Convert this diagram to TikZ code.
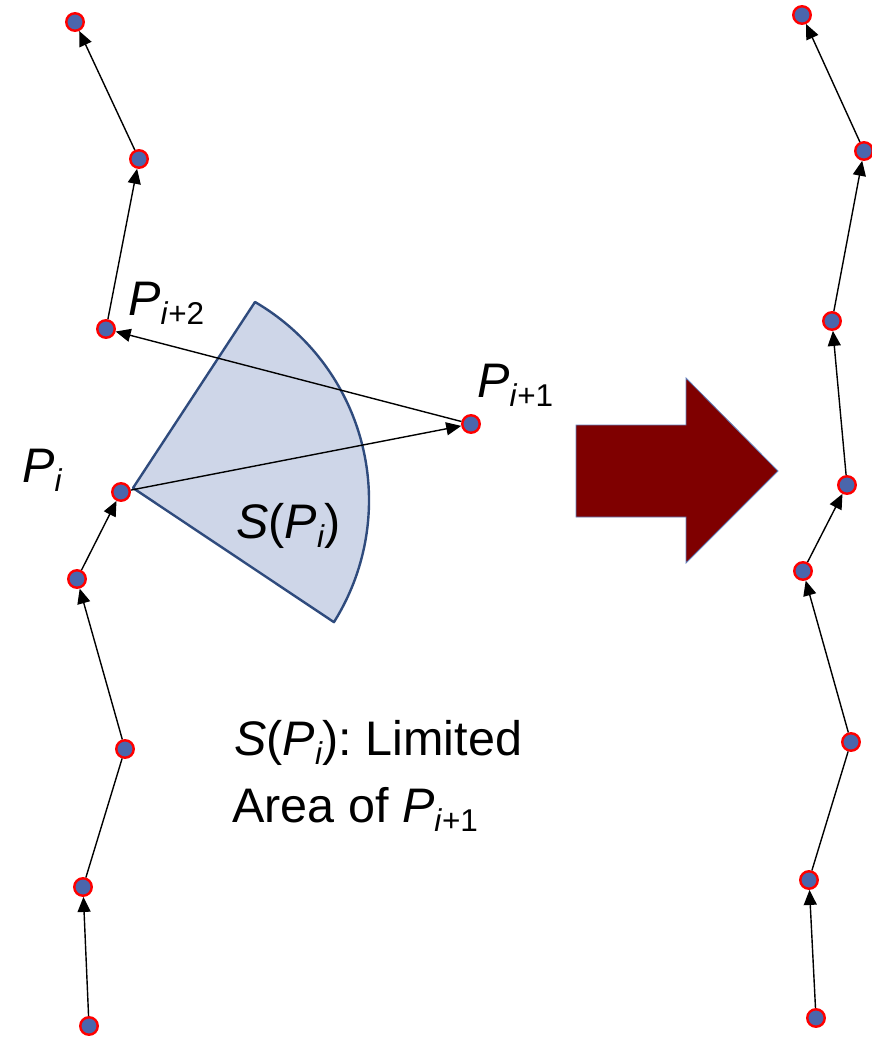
\documentclass[tikz,border=0pt]{standalone}
\usepackage{fontspec}
\setmainfont{Liberation Sans}
\usetikzlibrary{arrows.meta}
\definecolor{dotfill}{RGB}{74,102,172}
\definecolor{dotline}{RGB}{255,0,0}
\definecolor{secfill}{RGB}{206,214,232}
\definecolor{secline}{RGB}{47,75,125}
\definecolor{bigred}{RGB}{127,0,0}
\definecolor{bigline}{RGB}{100,130,190}
\newcommand{\Pl}[1]{\textit{P}\raisebox{-9.5pt}{\fontsize{31.5}{32}\selectfont #1}}
\frenchspacing
\begin{document}
\begin{tikzpicture}[x=1pt,y=1pt,
  pt/.style={circle,draw=dotline,fill=dotfill,line width=2.4pt,minimum size=17.5pt,inner sep=0pt,outer sep=1.2pt},
  link/.style={line width=1.4pt},
  arr/.style={link,-{Triangle[length=15pt,width=13pt]}},
  lbl/.style={anchor=base west,inner sep=0pt,font=\fontsize{48.5}{52}\selectfont}]
\useasboundingbox (0,0) rectangle (871,-1038);
% sector
\draw[secline,line width=2.4pt,fill=secfill,line join=round]
  (133,-488) -- (255,-302) arc[start angle=59.8,end angle=-32.1,radius=229.4] -- cycle;
% big arrow
\draw[fill=bigred,draw=bigline,line width=0.8pt]
  (576,-425) -- (686,-425) -- (686,-378) -- (778,-471) -- (686,-563) -- (686,-517) -- (576,-517) -- cycle;
% left chain
\node[pt] (L1) at (89,-1026) {};
\node[pt] (L2) at (83,-887) {};
\node[pt] (L3) at (125,-749) {};
\node[pt] (L4) at (77,-579) {};
\node[pt] (L5) at (121,-492) {};
\node[pt] (Q)  at (471,-424) {};
\node[pt] (L6) at (106,-329) {};
\node[pt] (L7) at (139,-159) {};
\node[pt] (L8) at (75,-22) {};
\draw[arr] (L1) -- (L2);
\draw[link] (L2) -- (L3);
\draw[arr] (L3) -- (L4);
\draw[arr] (L4) -- (L5);
\draw[arr] (L5) -- (Q);
\draw[arr] (Q) -- (L6);
\draw[arr] (L6) -- (L7);
\draw[arr] (L7) -- (L8);
% right chain
\node[pt] (R1) at (816,-1018) {};
\node[pt] (R2) at (809,-880) {};
\node[pt] (R3) at (851,-742) {};
\node[pt] (R4) at (803,-571) {};
\node[pt] (R5) at (847,-485) {};
\node[pt] (R6) at (832,-321) {};
\node[pt] (R7) at (864,-151) {};
\node[pt] (R8) at (802,-15) {};
\draw[arr] (R1) -- (R2);
\draw[link] (R2) -- (R3);
\draw[arr] (R3) -- (R4);
\draw[arr] (R4) -- (R5);
\draw[arr] (R5) -- (R6);
\draw[arr] (R6) -- (R7);
\draw[arr] (R7) -- (R8);
% labels
\node[lbl] (pi)  at (22,-482)  {\Pl{\textit{i}}};
\node[lbl] (pi2) at (128,-315) {\Pl{\textit{i}+2}};
\node[lbl] (pi1) at (477,-397) {\Pl{\textit{i}+1}};
\node[lbl] (sp)  at (236,-538) {\textit{S}(\Pl{\textit{i}})};
\node[lbl] (t1)  at (234,-755) {\textit{S}(\Pl{\textit{i}}): Limited};
\node[lbl] (t2)  at (232,-822) {Area of \Pl{\textit{i}+1}};
\end{tikzpicture}
\end{document}
